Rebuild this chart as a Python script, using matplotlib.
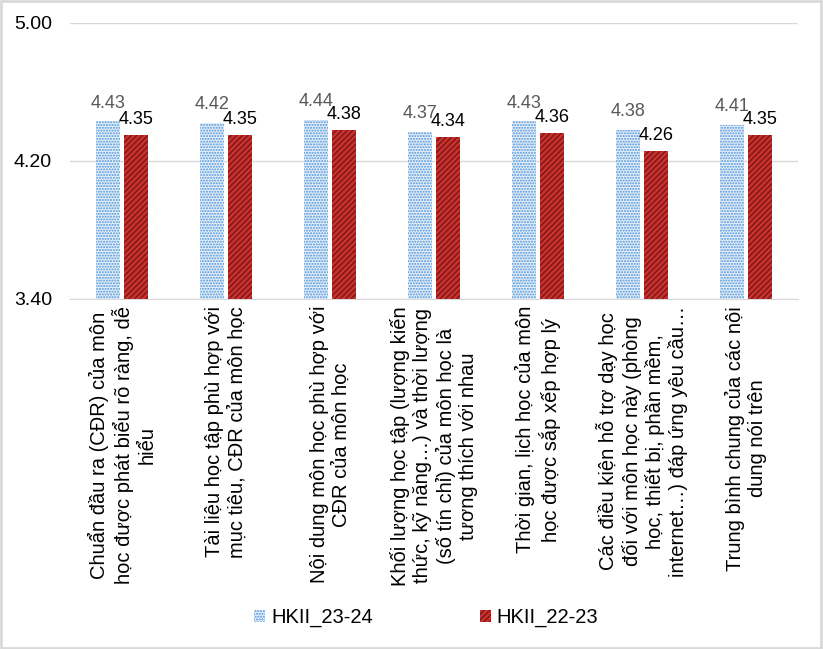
import matplotlib
matplotlib.use("Agg")
import matplotlib.pyplot as plt
import numpy as np
from matplotlib.patches import Rectangle, Patch

plt.rcParams['font.family'] = ['Liberation Sans', 'DejaVu Sans']
plt.rcParams['hatch.linewidth'] = 1.0

categories = [
    "Chuẩn đầu ra (CĐR) của môn\nhọc được phát biểu rõ ràng, dễ\nhiểu",
    "Tài liệu học tập phù hợp với\nmục tiêu, CĐR của môn học",
    "Nội dung môn học phù hợp với\nCĐR của môn học",
    "Khối lượng học tập (lượng kiến\nthức, kỹ năng…) và thời lượng\n(số tín chỉ) của môn học là\ntương thích với nhau",
    "Thời gian, lịch học của môn\nhọc được sắp xếp hợp lý",
    "Các điều kiện hỗ trợ dạy học\nđối với môn học này (phòng\nhọc, thiết bị, phần mềm,\ninternet…) đáp ứng yêu cầu…",
    "Trung bình chung của các nội\ndung nói trên",
]
series_names = ["HKII_23-24", "HKII_22-23"]
hk_23_24 = [4.43, 4.42, 4.44, 4.37, 4.43, 4.38, 4.41]
hk_22_23 = [4.35, 4.35, 4.38, 4.34, 4.36, 4.26, 4.35]
yticks = [3.40, 4.20, 5.00]

fig = plt.figure(figsize=(8.23, 6.49), dpi=100)
ax = fig.add_axes([0.085, 0.5393, 0.885, 0.4253])

x = np.arange(len(categories))
w = 0.23
off = 0.135
ax.bar(x - off, hk_23_24, w, bottom=0, facecolor='#E6F0FA', edgecolor='#4F93D8',
       hatch='......', linewidth=0, zorder=3)
ax.bar(x + off, hk_22_23, w, bottom=0, facecolor='#C8322E', edgecolor='#7E1515',
       hatch='//////', linewidth=0, zorder=3)

for xi, v in zip(x - off, hk_23_24):
    ax.annotate(f"{v:.2f}", (xi, v), xytext=(0, 7), textcoords='offset points',
                ha='center', va='bottom', fontsize=13, color='#595959')
for xi, v in zip(x + off, hk_22_23):
    ax.annotate(f"{v:.2f}", (xi, v), xytext=(0, 5), textcoords='offset points',
                ha='center', va='bottom', fontsize=13, color='black')

ax.set_ylim(3.40, 5.00)
ax.set_xlim(-0.5, len(categories) - 0.5)
ax.set_yticks(yticks)
ax.set_yticklabels([f"{t:.2f}" for t in yticks], fontsize=14)
ax.set_xticks(x)
ax.set_xticklabels(categories, rotation=90, fontsize=14.5, ha='center', va='top',
                   multialignment='center')
ax.tick_params(axis='both', length=0)
ax.tick_params(axis='y', pad=13)
ax.tick_params(axis='x', pad=5)
ax.grid(axis='y', color='#D9D9D9', linewidth=1, zorder=0)
for s in ['top', 'right', 'left']:
    ax.spines[s].set_visible(False)
ax.spines['bottom'].set_color('#D9D9D9')
ax.spines['bottom'].set_zorder(4)

handles = [Patch(facecolor='#E6F0FA', edgecolor='#4F93D8', hatch='......', linewidth=0),
           Patch(facecolor='#C8322E', edgecolor='#7E1515', hatch='//////', linewidth=0)]
fig.legend(handles, series_names, loc='center', bbox_to_anchor=(0.518, 0.048), ncol=2,
           frameon=False, fontsize=14.5, handlelength=0.55, handleheight=0.55,
           columnspacing=5.3, handletextpad=0.3)

fig.patches.append(Rectangle((0.001, 0.001), 0.997, 0.997, transform=fig.transFigure,
                             fill=False, edgecolor='#D9D9D9', linewidth=2))

fig.savefig("out.png", dpi=100)
